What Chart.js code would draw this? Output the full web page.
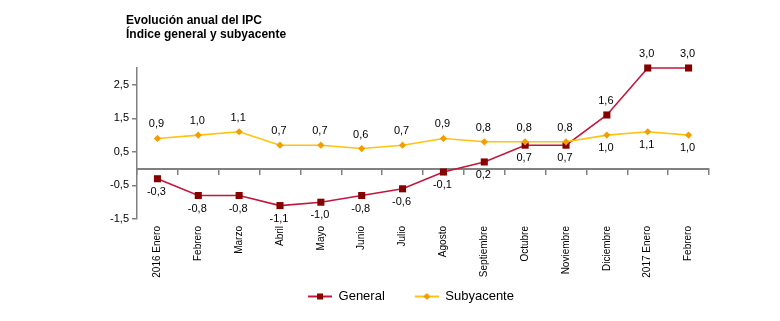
<!DOCTYPE html>
<html>
<head>
<meta charset="utf-8">
<script src="https://cdn.jsdelivr.net/npm/chart.js@4/dist/chart.umd.min.js"></script>
<style>
  html, body { margin: 0; padding: 0; background: #fff; }
  canvas { display: block; }
</style>
</head>
<body>
<canvas id="ipc" width="780" height="321"></canvas>
<script>
// Chart text and values
const titleLines = ['Evolución anual del IPC', 'Índice general y subyacente'];
const months = ['2016 Enero', 'Febrero', 'Marzo', 'Abril', 'Mayo', 'Junio', 'Julio',
                'Agosto', 'Septiembre', 'Octubre', 'Noviembre', 'Diciembre', '2017 Enero', 'Febrero'];
const general    = [-0.3, -0.8, -0.8, -1.1, -1.0, -0.8, -0.6, -0.1, 0.2, 0.7, 0.7, 1.6, 3.0, 3.0];
const subyacente = [ 0.9,  1.0,  1.1,  0.7,  0.7,  0.6,  0.7,  0.9, 0.8, 0.8, 0.8, 1.0, 1.1, 1.0];
const yTicks = [-1.5, -0.5, 0.5, 1.5, 2.5];
const seriesNames = ['General', 'Subyacente'];

const FONT = '"Liberation Sans", Arial, sans-serif';
const AXIS_GREY = '#808080';
const GEN_LINE = '#C3173A', GEN_MARK = '#860000';
const SUB_LINE = '#FFC20E', SUB_MARK = '#F29E00';

Chart.defaults.font.family = FONT;
Chart.defaults.color = '#000';

const fmt = v => Number(v).toFixed(1).replace('.', ',');

// Legend icons: a short line with its marker, drawn in the right part of a
// wider transparent box so that the legend entries get some space between them
const ICON_W = 44, LINE_W = 24;
function legendIcon(lineColor, markColor, shape) {
  const c = document.createElement('canvas');
  c.width = ICON_W; c.height = 11;
  const g = c.getContext('2d');
  const x0 = ICON_W - LINE_W, cx = x0 + LINE_W / 2;
  g.strokeStyle = lineColor; g.lineWidth = 2;
  g.beginPath(); g.moveTo(x0, 5.5); g.lineTo(ICON_W, 5.5); g.stroke();
  g.fillStyle = markColor;
  if (shape === 'rect') {
    g.fillRect(cx - 3, 2.5, 6, 6);
  } else {
    g.beginPath(); g.moveTo(cx, 2); g.lineTo(cx + 3.5, 5.5); g.lineTo(cx, 9); g.lineTo(cx - 3.5, 5.5); g.closePath(); g.fill();
  }
  return c;
}

// Two-line bold heading
const heading = {
  id: 'heading',
  afterDraw(chart) {
    const ctx = chart.ctx;
    ctx.save();
    ctx.font = 'bold 12px ' + FONT;
    ctx.fillStyle = '#000';
    ctx.textAlign = 'left';
    ctx.textBaseline = 'alphabetic';
    ctx.fillText(titleLines[0], 126, 24);
    ctx.fillText(titleLines[1], 126, 38);
    ctx.restore();
  }
};

// Value labels: the higher series is labelled above its point, the lower one below
const valueLabels = {
  id: 'valueLabels',
  afterDatasetsDraw(chart) {
    const ctx = chart.ctx;
    const sets = chart.data.datasets;
    ctx.save();
    ctx.font = '11px ' + FONT;
    ctx.fillStyle = '#000';
    ctx.textAlign = 'center';
    ctx.textBaseline = 'middle';
    sets.forEach((ds, di) => {
      const other = sets[1 - di].data;
      chart.getDatasetMeta(di).data.forEach((pt, i) => {
        const v = ds.data[i];
        const above = v > other[i];
        ctx.fillText(fmt(v), pt.x - 1, pt.y + (above ? -14 : 13));
      });
    });
    ctx.restore();
  }
};

new Chart(document.getElementById('ipc'), {
  type: 'line',
  data: {
    labels: months,
    datasets: [
      {
        label: seriesNames[0], data: general, order: 1,
        borderColor: GEN_LINE, borderWidth: 1.6,
        pointStyle: 'rect', pointRadius: 5, pointBackgroundColor: GEN_MARK, pointBorderWidth: 0,
        tension: 0, clip: false
      },
      {
        label: seriesNames[1], data: subyacente, order: 0,
        borderColor: SUB_LINE, borderWidth: 1.6,
        pointStyle: 'rectRot', pointRadius: 3.6, pointBackgroundColor: SUB_MARK, pointBorderWidth: 0,
        tension: 0, clip: false
      }
    ]
  },
  options: {
    responsive: false,
    animation: false,
    layout: { padding: { left: 22, right: 0, top: 68, bottom: 8 } },
    scales: {
      x: {
        type: 'category',
        position: { y: 0 },
        offset: true,
        ticks: { display: false },
        grid: { drawOnChartArea: false, drawTicks: true, tickLength: 5, color: AXIS_GREY, lineWidth: 1.5, offset: true },
        border: { display: true, color: AXIS_GREY, width: 2 }
      },
      x2: {
        type: 'category',
        labels: months,
        position: 'bottom',
        offset: true,
        grid: { display: false, drawTicks: false },
        border: { display: false },
        ticks: { autoSkip: false, maxRotation: 90, minRotation: 90, padding: 7, color: '#000', font: { size: 10 } },
        afterFit(s) { s.height = 61; }
      },
      y: {
        type: 'linear',
        position: 'left',
        min: -1.5,
        max: 3,
        afterBuildTicks(s) { s.ticks = yTicks.map(v => ({ value: v })); },
        ticks: { color: '#000', font: { size: 11 }, padding: 3, callback: v => fmt(v) },
        grid: { drawOnChartArea: false, drawTicks: true, tickLength: 5, color: AXIS_GREY, lineWidth: 1.5 },
        border: { display: true, color: AXIS_GREY, width: 1.5 },
        afterFit(s) { s.width = 115; }
      },
      yR: {
        type: 'linear',
        position: 'right',
        display: true,
        grid: { display: false },
        border: { display: false },
        ticks: { display: false },
        afterFit(s) { s.width = 71; }
      }
    },
    plugins: {
      tooltip: { enabled: false },
      title: { display: false },
      legend: {
        position: 'bottom',
        labels: {
          usePointStyle: true,
          pointStyleWidth: ICON_W,
          padding: 10,
          color: '#000',
          font: { size: 13 },
          generateLabels: () => [
            { text: seriesNames[0], pointStyle: legendIcon(GEN_LINE, GEN_MARK, 'rect'), datasetIndex: 0, hidden: false, lineWidth: 0, fontColor: '#000' },
            { text: seriesNames[1], pointStyle: legendIcon(SUB_LINE, SUB_MARK, 'diamond'), datasetIndex: 1, hidden: false, lineWidth: 0, fontColor: '#000' }
          ]
        }
      }
    }
  },
  plugins: [heading, valueLabels]
});
</script>
</body>
</html>
